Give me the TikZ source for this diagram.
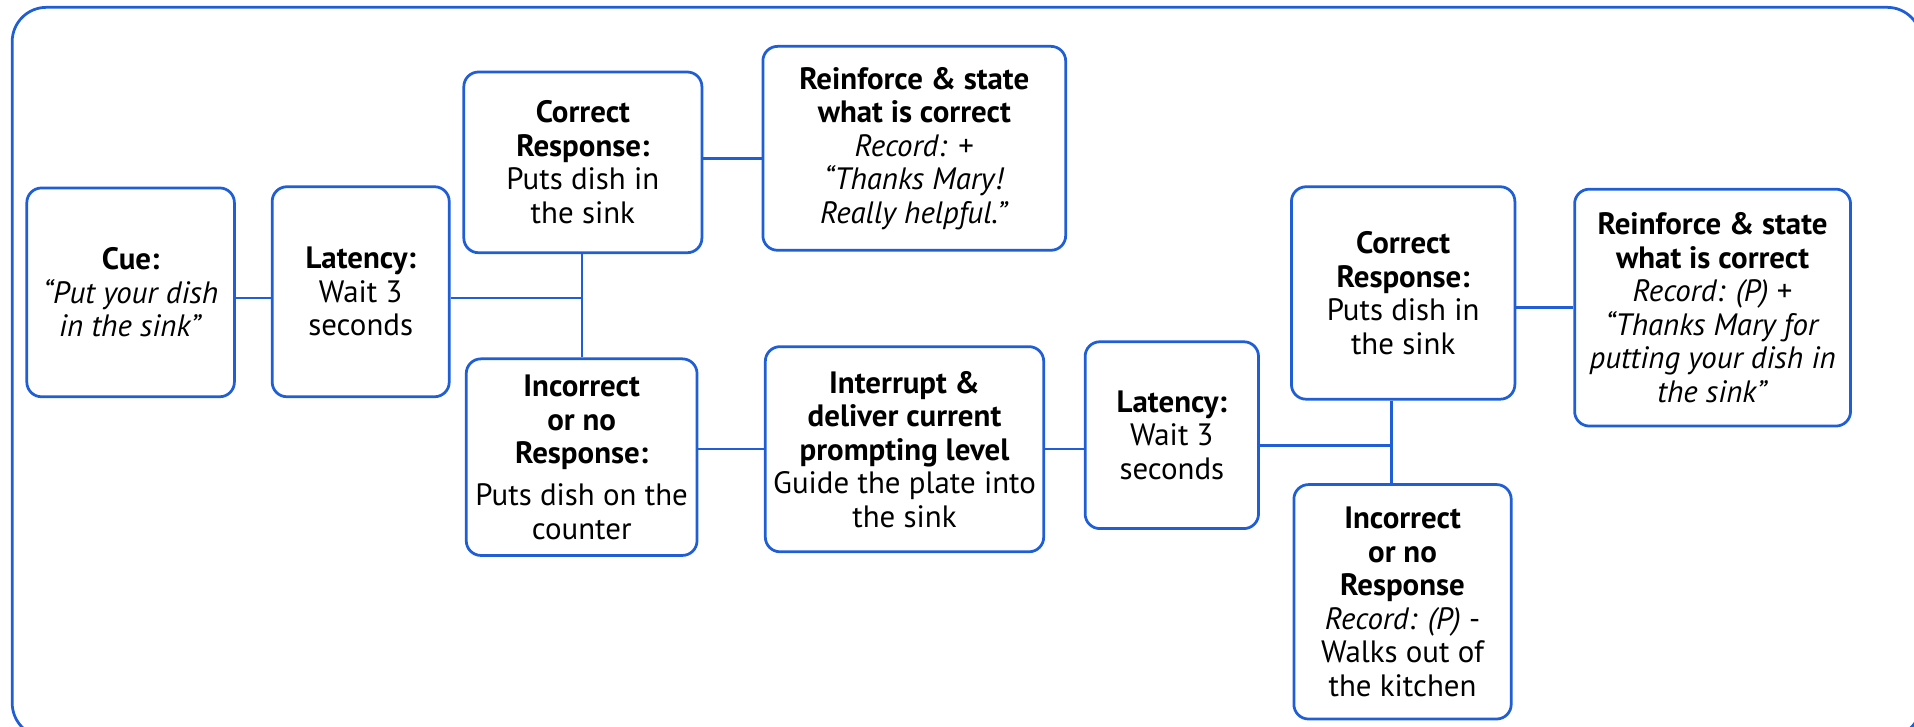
\documentclass[tikz,border=0pt]{standalone}
\usepackage{fontspec}
\setmainfont{PT Sans}
\usepackage{xcolor}
\usepackage{tikz}
\definecolor{frameblue}{RGB}{31,94,212}
\tikzset{
  box/.style={draw=frameblue, line width=1.6pt, rounded corners=0.3cm, fill=white,
    align=center, inner sep=0pt, font=\fontsize{18}{19.5}\selectfont},
  link/.style={draw=frameblue, line width=1.4pt}
}

\begin{document}
\begin{tikzpicture}[x=0.025cm, y=-0.025cm]
        \useasboundingbox (0,0) rectangle (1568,595); % same proportions as the slide
        \begin{scope}
            \clip (0,0) rectangle (1568,595); % frame runs off the bottom and right
            \draw[frameblue, line width=1.6pt, rounded corners=0.7cm] (10,6) rectangle (1574,604);
        \end{scope}

        % first trial
        \node[box, minimum width=4.25cm, minimum height=4.275cm] (cue) at (107,239.5)
            {\textbf{Cue:}\\ \textit{“Put your dish}\\ \textit{in the sink”}};
        \node[box, minimum width=3.625cm, minimum height=4.3cm] (lat1) at (295.5,239)
            {\textbf{Latency:}\\ Wait 3\\ seconds};
        \node[box, minimum width=4.875cm, minimum height=3.7cm] (cor1) at (477.5,133)
            {\textbf{Correct}\\ \textbf{Response:}\\ Puts dish in\\ the sink};
        \node[box, minimum width=6.2cm, minimum height=4.175cm] (rein1) at (749,121.5)
            {\textbf{Reinforce \& state}\\ \textbf{what is correct}\\ \textit{Record:} +\\
             \textit{“Thanks Mary!}\\ \textit{Really helpful.”}};
        \node[box, minimum width=4.725cm, minimum height=4.025cm] (inc1) at (476.5,374.5)
            {\textbf{Incorrect}\\ \textbf{or no}\\ \textbf{Response:}\\[5pt] Puts dish on the\\ counter};

        % prompt and second trial
        \node[box, minimum width=5.7cm, minimum height=4.2cm] (intr) at (741,368)
            {\textbf{Interrupt \&}\\ \textbf{deliver current}\\ \textbf{prompting level}\\
             Guide the plate into\\ the sink};
        \node[box, minimum width=3.55cm, minimum height=3.825cm] (lat2) at (960,356.5)
            {\textbf{Latency:}\\ Wait 3\\ seconds};
        \node[box, minimum width=4.575cm, minimum height=4.35cm] (cor2) at (1149.5,240)
            {\textbf{Correct}\\ \textbf{Response:}\\ Puts dish in\\ the sink};
        \node[box, minimum width=5.65cm, minimum height=4.85cm] (rein2) at (1403,252)
            {\textbf{Reinforce \& state}\\ \textbf{what is correct}\\ \textit{Record: (P)} +\\
             \textit{“Thanks Mary for}\\ \textit{putting your dish in}\\ \textit{the sink”}};
        \node[box, minimum width=4.45cm, minimum height=4.8cm] (inc2) at (1149,493)
            {\textbf{Incorrect}\\ \textbf{or no}\\ \textbf{Response}\\ \textit{Record: (P)} -\\
             Walks out of\\ the kitchen};

        \coordinate (j1) at (477,244); % branch point after first latency
        \coordinate (j2) at (1140,365); % branch point after second latency

        \draw[link] (cue.east |- j1) -- (lat1.west |- j1);
        \draw[link] (lat1.east |- j1) -- (j1);
        \draw[link] (j1 |- cor1.south) -- (j1 |- inc1.north);
        \draw[link] (cor1.east |- 0,130) -- (rein1.west |- 0,130);
        \draw[link] (inc1.east |- intr.west) -- (intr.west);
        \draw[link] (intr.east) -- (lat2.west |- intr.east);
        \draw[link] (lat2.east |- j2) -- (j2);
        \draw[link] (j2 |- cor2.south) -- (j2 |- inc2.north);
        \draw[link] (cor2.east |- rein2.west) -- (rein2.west);
\end{tikzpicture}
\end{document}
